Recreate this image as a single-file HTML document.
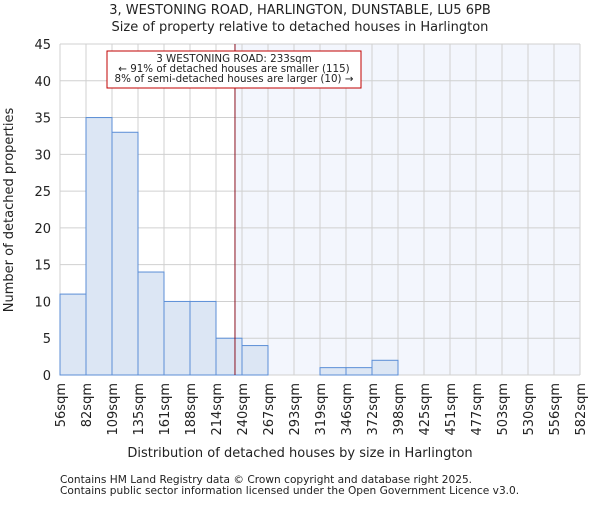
<!DOCTYPE html>
<html><head><meta charset="utf-8"><style>body{margin:0;background:#fff}svg text{font-family:"DejaVu Sans","Liberation Sans",sans-serif;fill:#222}</style></head>
<body>
<svg id="c" width="600" height="500"></svg>
<script>
const binLabels=["56sqm","82sqm","109sqm","135sqm","161sqm","188sqm","214sqm","240sqm","267sqm","293sqm","319sqm","346sqm","372sqm","398sqm","425sqm","451sqm","477sqm","503sqm","530sqm","556sqm","582sqm"];
const counts=[11,35,33,14,10,10,5,4,0,0,1,1,2,0,0,0,0,0,0,0];
const yTicks=[0,5,10,15,20,25,30,35,40,45];
const markerIndex=6.73;
const NS="http://www.w3.org/2000/svg",svg=document.getElementById('c');
const X0=60,X1=580,Y0=375,Y1=44,nb=counts.length,bw=(X1-X0)/nb;
const xs=i=>X0+i*bw, ys=v=>Y0-(v/45)*(Y0-Y1);
function el(t,a,txt){const e=document.createElementNS(NS,t);for(const k in a)e.setAttribute(k,a[k]);if(txt!==undefined)e.textContent=txt;svg.appendChild(e);return e;}
let e;
e=el('rect',{x:xs(markerIndex),y:Y1,width:X1-xs(markerIndex),height:Y0-Y1,fill:'#f3f6fd'});

for(let i=0;i<=nb;i++){e=el('line',{x1:xs(i),x2:xs(i),y1:Y1,y2:Y0,stroke:'#d0d0d0'});}
yTicks.forEach(v=>{e=el('line',{x1:X0,x2:X1,y1:ys(v),y2:ys(v),stroke:'#d0d0d0'});
e=el('text',{x:X0-9,y:ys(v)+5,'text-anchor':'end','font-size':13},v);});
counts.forEach((v,i)=>{if(v<=0)return;e=el('rect',{x:xs(i),y:ys(v),width:bw,height:Y0-ys(v),fill:'#dce6f4',stroke:'#5b8ed6','stroke-width':1});});
binLabels.forEach((l,i)=>{e=el('text',{transform:`translate(${xs(i)+5},383) rotate(-90)`,'text-anchor':'end','font-size':13},l);});
e=el('line',{x1:xs(markerIndex),x2:xs(markerIndex),y1:Y1,y2:Y0,stroke:'#8a1020','stroke-width':1});
e=el('rect',{x:107,y:51,width:254,height:37,fill:'#fff',stroke:'#c00000'});
[["3 WESTONING ROAD: 233sqm",62],["← 91% of detached houses are smaller (115)",72],["8% of semi-detached houses are larger (10) →",82]].forEach(([t,y])=>{e=el('text',{x:234,y:y,'text-anchor':'middle','font-size':10.3},t);});
e=el('text',{x:300,y:14,'text-anchor':'middle','font-size':13},'3, WESTONING ROAD, HARLINGTON, DUNSTABLE, LU5 6PB');
e=el('text',{x:300,y:31,'text-anchor':'middle','font-size':13},'Size of property relative to detached houses in Harlington');
e=el('text',{x:300,y:457,'text-anchor':'middle','font-size':13},'Distribution of detached houses by size in Harlington');
e=el('text',{transform:'translate(13,210) rotate(-90)','text-anchor':'middle','font-size':13},'Number of detached properties');
e=el('text',{x:60,y:483,'font-size':10.6,fill:'#444'},'Contains HM Land Registry data © Crown copyright and database right 2025.');
e=el('text',{x:60,y:494,'font-size':10.6,fill:'#444'},'Contains public sector information licensed under the Open Government Licence v3.0.');
</script>
</body></html>
